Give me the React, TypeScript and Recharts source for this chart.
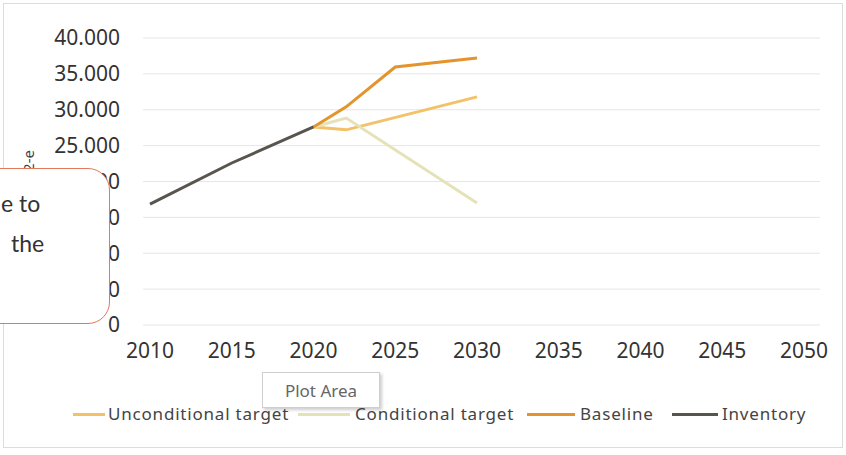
import React from 'react';
import { LineChart, Line, XAxis, YAxis, CartesianGrid } from 'recharts';

const years = [2010, 2015, 2020, 2022, 2025, 2030];
const inventory = [16850, 22580, 27600, null, null, null];
const baseline = [null, null, 27600, 30400, 35960, 37200];
const unconditional = [null, null, 27600, 27200, null, 31800];
const conditional = [null, null, 27600, 28850, null, 17000];

const xTicks = [2010, 2015, 2020, 2025, 2030, 2035, 2040, 2045, 2050];
const yTicks = [0, 5000, 10000, 15000, 20000, 25000, 30000, 35000, 40000];

const SERIES = [
  { key: 'unconditional', name: 'Unconditional target', color: '#F3C167' },
  { key: 'conditional', name: 'Conditional target', color: '#E6E2B8' },
  { key: 'baseline', name: 'Baseline', color: '#E4942C' },
  { key: 'inventory', name: 'Inventory', color: '#58544E' },
];

// legend swatch start/end and text start
const legendPos = [
  { x0: 73, x1: 105, tx: 108 },
  { x0: 298, x1: 350, tx: 355 },
  { x0: 527, x1: 575, tx: 580 },
  { x0: 672, x1: 718, tx: 722 },
];

const data = years.map((year, i) => ({
  year,
  inventory: inventory[i],
  baseline: baseline[i],
  unconditional: unconditional[i],
  conditional: conditional[i],
}));

const fmt = (v: number) => (v === 0 ? '0' : v.toLocaleString('de-DE'));

const FONT = '"Noto Sans", sans-serif';

export default function App() {
  return (
    <div style={{ position: 'fixed', left: 0, top: 0, width: 846, height: 455, background: '#fff', overflow: 'hidden' }}>
      <div style={{ position: 'absolute', left: 3, top: 3, width: 838, height: 443, border: '1px solid #dcdcdc' }} />
      <LineChart width={846} height={455} data={data} margin={{ top: 38, right: 26, left: 0, bottom: 100 }}>
        <CartesianGrid vertical={false} stroke="#e6e6e6" />
        <XAxis
          dataKey="year"
          type="number"
          domain={[2010, 2050]}
          ticks={xTicks}
          interval={0}
          padding={{ left: 7, right: 16 }}
          axisLine={false}
          tickLine={false}
          tickSize={0}
          tickMargin={18}
          tick={{ fill: '#333', fontSize: 21, fontFamily: FONT }}
        />
        <YAxis
          domain={[0, 40000]}
          ticks={yTicks}
          interval={0}
          tickFormatter={fmt}
          width={143}
          axisLine={false}
          tickLine={false}
          tickSize={0}
          tickMargin={23}
          tick={{ fill: '#333', fontSize: 21, fontFamily: FONT }}
        />
        {SERIES.map((s) => (
          <Line
            key={s.key}
            dataKey={s.key}
            name={s.name}
            stroke={s.color}
            strokeWidth={3}
            dot={false}
            connectNulls
            isAnimationActive={false}
            type="linear"
          />
        ))}
      </LineChart>
      {SERIES.map((s, i) => (
        <React.Fragment key={s.key}>
          <div style={{ position: 'absolute', left: legendPos[i].x0, top: 413, width: legendPos[i].x1 - legendPos[i].x0, height: 3, background: s.color }} />
          <div
            style={{
              position: 'absolute', left: legendPos[i].tx, top: 403, fontFamily: FONT, fontSize: 17,
              letterSpacing: 0.8, color: '#444', whiteSpace: 'nowrap', lineHeight: '22px',
            }}
          >
            {s.name}
          </div>
        </React.Fragment>
      ))}
      <div
        style={{
          position: 'absolute', left: 18, top: 150, transform: 'rotate(-90deg)', transformOrigin: 'left top',
          fontFamily: FONT, fontSize: 15, color: '#444', whiteSpace: 'nowrap',
        }}
      >
        <span style={{ position: 'absolute', right: 0, top: 0 }}>ktCO2-e</span>
      </div>
      <div
        style={{
          position: 'absolute', left: -40, top: 168, width: 148, height: 154, background: '#fff',
          border: '1.5px solid #E2795A', borderRadius: 22, fontFamily: 'Lato, sans-serif', fontSize: 23, color: '#333',
        }}
      >
        <span style={{ position: 'absolute', left: 40, top: 20 }}>e to</span>
        <span style={{ position: 'absolute', left: 50, top: 60 }}>the</span>
      </div>
      <div
        style={{
          position: 'absolute', left: 262, top: 372, width: 116, height: 34, background: '#fff',
          border: '1px solid #cfcfcf', boxShadow: '2px 2px 3px rgba(0,0,0,0.2)', fontFamily: FONT, fontSize: 17,
          color: '#666', display: 'flex', alignItems: 'center', justifyContent: 'center',
        }}
      >
        Plot Area
      </div>
    </div>
  );
}
